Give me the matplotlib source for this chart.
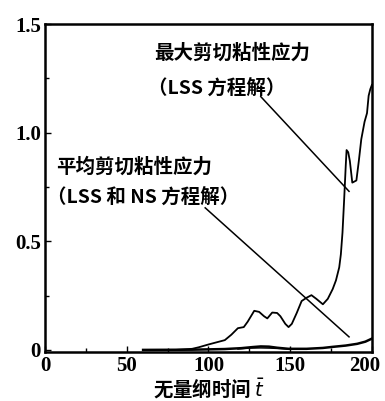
import matplotlib.pyplot as plt
import matplotlib.transforms as mtransforms
from matplotlib.ticker import MultipleLocator

plt.rcParams['font.family'] = ['Noto Sans CJK SC', 'DejaVu Sans']

# 最大剪切粘性应力 (LSS)
t_max = [80, 90, 94, 100, 105, 110, 114, 118, 121.6, 124, 128, 131, 134, 136, 139, 142, 144, 147, 149,
         151, 154, 157, 160, 163, 166, 170, 173, 176, 178, 180, 181, 182, 183, 184, 184.5, 185.5, 186.5,
         188, 190.5, 192, 193.5, 195.5, 197, 198, 199, 200]
v_max = [0.0, 0.005, 0.012, 0.025, 0.035, 0.045, 0.07, 0.1, 0.105, 0.13, 0.18, 0.175, 0.155, 0.145, 0.172,
         0.17, 0.155, 0.12, 0.105, 0.12, 0.17, 0.225, 0.24, 0.252, 0.235, 0.21, 0.235, 0.28, 0.32, 0.38,
         0.44, 0.54, 0.69, 0.85, 0.92, 0.91, 0.87, 0.77, 0.78, 0.87, 0.97, 1.05, 1.09, 1.17, 1.2, 1.22]

# 平均剪切粘性应力 (LSS 和 NS)
t_avg = [60, 90, 110, 120, 127, 132, 137, 142, 149, 160, 170, 176, 184, 191, 196, 200]
v_avg = [0.0, 0.001, 0.004, 0.008, 0.013, 0.016, 0.015, 0.01, 0.005, 0.005, 0.009, 0.014, 0.02, 0.028, 0.038, 0.052]
t_avg2 = [118, 125, 132, 138, 144, 150]
v_avg2 = [0.004, 0.008, 0.009, 0.008, 0.006, 0.003]

# 标注引线
lead1_t = [132, 186]
lead1_v = [1.166, 0.73]
lead2_t = [98, 186]
lead2_v = [0.654, 0.06]

fig = plt.figure(figsize=(3.85, 4.01), dpi=100)
ax = fig.add_axes([0.117, 0.122, 0.849, 0.818])

ax.plot(t_max, v_max, color='black', lw=1.3)
ax.plot(t_avg, v_avg, color='black', lw=1.8)
ax.plot(t_avg2, v_avg2, color='black', lw=1.0)
ax.plot(lead1_t, lead1_v, color='black', lw=1.1)
ax.plot(lead2_t, lead2_v, color='black', lw=1.1)

tfont = dict(fontsize=14, fontweight='bold', va='center')
ax.text(67, 1.365, '最大剪切粘性应力', **tfont)
ax.text(63, 1.20, '（LSS 方程解）', **tfont)
ax.text(7, 0.84, '平均剪切粘性应力', **tfont)
ax.text(1, 0.70, '（LSS 和 NS 方程解）', **tfont)

ax.set_xlim(0, 200)
ax.set_ylim(-0.01, 1.5)
ax.set_xticks([0, 50, 100, 150, 200])
ax.set_yticks([0, 0.5, 1.0, 1.5])
ax.set_yticklabels(['0', '0.5', '1.0', '1.5'])
ax.yaxis.set_minor_locator(MultipleLocator(0.25))
ax.xaxis.set_minor_locator(MultipleLocator(25))
ax.tick_params(which='both', direction='in', length=3, width=1, pad=3)
ax.tick_params(which='major', length=4)
for lab in ax.get_xticklabels() + ax.get_yticklabels():
    lab.set_family('Liberation Serif')
    lab.set_fontweight('bold')
    lab.set_fontsize(15)
# 最右的 200 稍微左移，避免被裁掉
last = ax.get_xticklabels()[-1]
last.set_transform(last.get_transform() + mtransforms.ScaledTranslation(-5 / 72, 0, fig.dpi_scale_trans))
for s in ax.spines.values():
    s.set_linewidth(1.8)

ax.set_xlabel('无量纲时间 $\\bar{t}$', fontsize=14, fontweight='bold', labelpad=0)

fig.savefig('out.png', dpi=100)
